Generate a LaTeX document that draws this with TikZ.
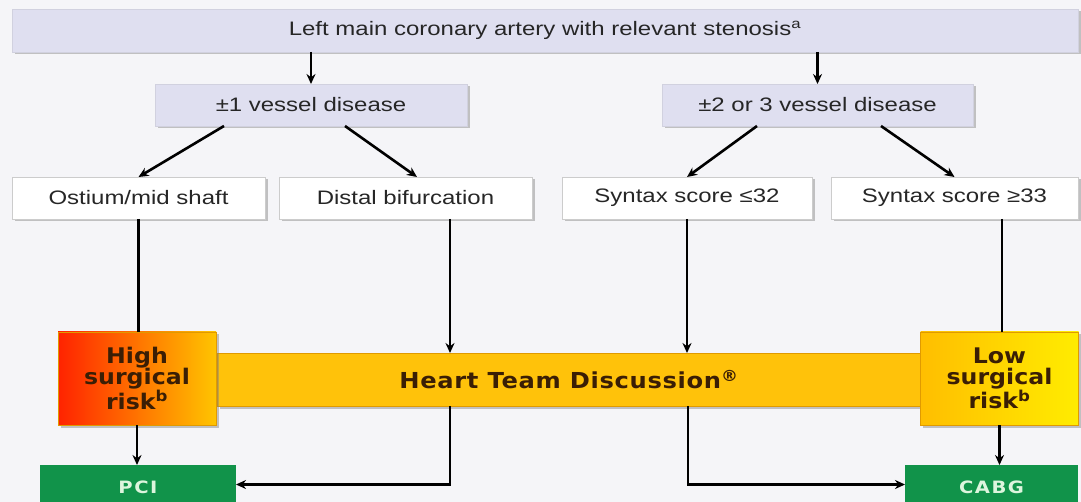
\documentclass[tikz,border=0pt]{standalone}
\usepackage{fontspec}
\setmainfont{Liberation Sans}[FakeStretch=1.23]
\newfontfamily\heavyfont{DejaVu Sans}[FakeStretch=1.1]
\newfontfamily\teamfont{DejaVu Sans}[FakeStretch=1.1, LetterSpace=3]
\newfontfamily\treatfont{DejaVu Sans}[FakeStretch=1.15, LetterSpace=9]
\usetikzlibrary{arrows.meta, shadows}
\definecolor{paper}{HTML}{F5F5F8}
\definecolor{lilac}{HTML}{DFDFF0}
\definecolor{teamgold}{HTML}{FFC20A}
\definecolor{goldedge}{HTML}{E09A00}
\definecolor{treatgreen}{HTML}{11934A}
\definecolor{treattext}{HTML}{DDF5DD}
\definecolor{riskbrown}{HTML}{3A1E05}

\begin{document}
\begin{tikzpicture}[x=1pt, y=-1pt,
    every node/.style={inner sep=0pt, outer sep=0pt},
    boxshadow/.style={drop shadow={shadow xshift=2.5pt, shadow yshift=-2.5pt, opacity=0.45, fill=gray}},
    lilacbox/.style={fill=lilac, draw=lilac!85!gray, boxshadow, minimum height=42pt,
        text=black!85, font=\fontsize{19.5}{21}\selectfont},
    whitebox/.style={fill=white, draw=gray!40, boxshadow, minimum height=42pt,
        text=black!85, font=\fontsize{19.5}{21}\selectfont},
    riskbox/.style={draw=goldedge, boxshadow, minimum width=158pt, minimum height=93pt,
        align=center, text=riskbrown, font=\heavyfont\bfseries\fontsize{21.5}{21}\selectfont},
    treatbox/.style={fill=treatgreen, minimum height=45pt, text=treattext,
        font=\treatfont\bfseries\fontsize{17}{19}\selectfont},
    arr/.style={line width=2.6pt, -{Stealth[length=10pt, width=9pt]}},
    link/.style={line width=2.6pt}
]
    \useasboundingbox (0,0) rectangle (1081,502);
    \clip (0,0) rectangle (1081,502);
    \fill[paper] (0,0) rectangle (1081,502);

    % Stenosis and vessel disease
    \node[lilacbox, minimum width=1066pt, minimum height=43pt] (lmca) at (545,30.5)
        {Left main coronary artery with relevant stenosis\textsuperscript{a}};
    \node[lilacbox, minimum width=312pt] (onevd) at (311,105) {±1 vessel disease};
    \node[lilacbox, minimum width=311pt] (multivd) at (817.5,105) {±2 or 3 vessel disease};

    % Lesion site and syntax score
    \node[whitebox, minimum width=253pt] (ostium) at (138.5,198) {Ostium/mid shaft};
    \node[whitebox, minimum width=253pt] (distal) at (405.5,198) {Distal bifurcation};
    \node[whitebox, minimum width=250pt] (sxlow) at (687,198) {Syntax score ≤32};
    \node[whitebox, minimum width=247pt] (sxhigh) at (954.5,198) {Syntax score ≥33};

    % Heart team and surgical risk
    \node[fill=teamgold, draw=goldedge, boxshadow, minimum width=704pt, minimum height=53pt,
        text=riskbrown, font=\teamfont\bfseries\fontsize{22}{24}\selectfont] (heart) at (569,379.5)
        {Heart Team Discussion\textsuperscript{®}};
    \node[riskbox, left color={rgb,255:red,255;green,35;blue,0}, right color={rgb,255:red,255;green,196;blue,0}]
        (highrisk) at (137,378.5) {High\\surgical\\risk\textsuperscript{b}};
    \node[riskbox, left color={rgb,255:red,255;green,190;blue,0}, right color={rgb,255:red,255;green,236;blue,0}]
        (lowrisk) at (999.5,378.5) {Low\\surgical\\risk\textsuperscript{b}};

    % Treatment
    \node[treatbox, minimum width=196pt] (pci) at (138,487.5) {PCI};
    \node[treatbox, minimum width=173pt] (cabg) at (991.5,487.5) {CABG};

    % Connectors
    \draw[arr] (lmca.south -| onevd.north) -- (onevd.north);
    \draw[arr] (lmca.south -| multivd.north) -- (multivd.north);
    \draw[arr] ([xshift=-87pt]onevd.south) -- (ostium.north);
    \draw[arr] ([xshift=34pt]onevd.south) -- ([xshift=11.5pt]distal.north);
    \draw[arr] ([xshift=-60.5pt]multivd.south) -- (sxlow.north);
    \draw[arr] ([xshift=63.5pt]multivd.south) -- (sxhigh.north);
    \draw[link] (ostium.south) -- (ostium.south |- highrisk.north);
    \draw[arr] ([xshift=44.5pt]distal.south) -- ([xshift=44.5pt]distal.south |- heart.north);
    \draw[arr] (sxlow.south) -- (sxlow.south |- heart.north);
    \draw[link] ([xshift=47.5pt]sxhigh.south) -- ([xshift=47.5pt]sxhigh.south |- lowrisk.north);
    \draw[arr] (highrisk.south) -- (highrisk.south |- pci.north);
    \draw[arr] (lowrisk.south) -- (lowrisk.south |- cabg.north);
    \draw[arr] ([xshift=-119pt]heart.south) |- ([yshift=3pt]pci.east);
    \draw[arr] ([xshift=119pt]heart.south) |- ([yshift=3pt]cabg.west);
\end{tikzpicture}
\end{document}
